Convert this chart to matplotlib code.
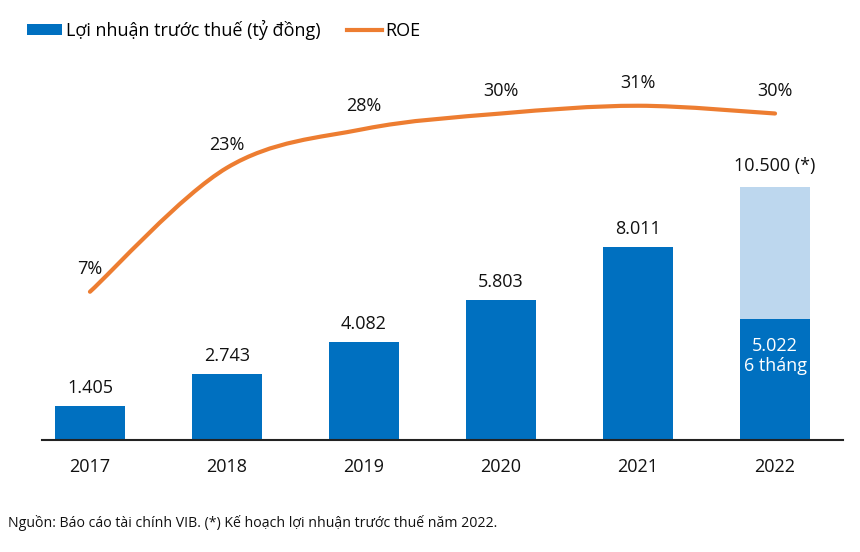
import matplotlib
matplotlib.use("Agg")
import matplotlib.pyplot as plt
from matplotlib.path import Path
from matplotlib.patches import PathPatch, Patch
from matplotlib.lines import Line2D
import numpy as np

years = ["2017", "2018", "2019", "2020", "2021", "2022"]
profit = [1405, 2743, 4082, 5803, 8011, 5022]
profit_labels = ["1.405", "2.743", "4.082", "5.803", "8.011", "5.022\n6 tháng"]
plan_2022 = 10500
plan_label = "10.500 (*)"
roe = [7, 23, 28, 30, 31, 30]
roe_labels = ["7%", "23%", "28%", "30%", "31%", "30%"]

BLUE = "#0070C0"
LIGHT = "#BDD7EE"
ORANGE = "#ED7D31"
FONT = "Open Sans"

plt.rcParams["font.family"] = [FONT, "DejaVu Sans"]

fig = plt.figure(figsize=(8.6, 5.52), dpi=100)
W, H = 860, 552
ax_left, ax_right, ax_bottom, ax_top = 42, 843, 440, 60
ax = fig.add_axes([ax_left / W, 1 - ax_bottom / H, (ax_right - ax_left) / W, (ax_bottom - ax_top) / H])

x = np.arange(len(years))
bw = 0.51

ax.bar(x[-1], plan_2022, width=bw, color=LIGHT, zorder=1)
ax.bar(x, profit, width=bw, color=BLUE, zorder=2)

ax.set_xlim(-0.35, 5.496)
ax.set_ylim(0, 380 / 0.02409)

for i, (v, lab) in enumerate(zip(profit, profit_labels)):
    if i == len(years) - 1:
        ax.text(x[i], v - 750, lab, ha="center", va="top", color="white",
                fontsize=13, linespacing=1.15, zorder=5)
    else:
        ax.annotate(lab, (x[i], v), xytext=(0, 6.5), textcoords="offset points",
                    ha="center", va="bottom", fontsize=13, color="#111111")
ax.annotate(plan_label, (x[-1], plan_2022), xytext=(0, 9), textcoords="offset points",
            ha="center", va="bottom", fontsize=13, color="#111111")

for s in ["top", "right", "left"]:
    ax.spines[s].set_visible(False)
ax.spines["bottom"].set_linewidth(1.5)
ax.spines["bottom"].set_color("#222222")
ax.set_yticks([])
ax.set_xticks(x)
ax.set_xticklabels(years, fontsize=13, color="#111111")
ax.tick_params(axis="x", length=0, pad=13)

ax2 = ax.twinx()
ax2.set_ylim(-94 / 7.75, 286 / 7.75)
ax2.set_xlim(ax.get_xlim())
ax2.axis("off")

# smooth line through the ROE points (Catmull-Rom as cubic Bezier)
px = list(x.astype(float))
py = list(roe)
verts = [(px[0], py[0])]
codes = [Path.MOVETO]
t = 1 / 6
for i in range(len(px) - 1):
    p0 = (px[max(i - 1, 0)], py[max(i - 1, 0)])
    p1 = (px[i], py[i])
    p2 = (px[i + 1], py[i + 1])
    p3 = (px[min(i + 2, len(px) - 1)], py[min(i + 2, len(px) - 1)])
    c1 = (p1[0] + (p2[0] - p0[0]) * t, p1[1] + (p2[1] - p0[1]) * t)
    c2 = (p2[0] - (p3[0] - p1[0]) * t, p2[1] - (p3[1] - p1[1]) * t)
    verts += [c1, c2, p2]
    codes += [Path.CURVE4] * 3
ax2.add_patch(PathPatch(Path(verts, codes), facecolor="none", edgecolor=ORANGE,
                        lw=3, capstyle="round", zorder=4))

for xi, r, lab in zip(x, roe, roe_labels):
    ax2.annotate(lab, (xi, r), xytext=(0, 16.5), textcoords="offset points",
                 ha="center", va="center", fontsize=13, color="#111111")

handles = [Patch(facecolor=BLUE, edgecolor="none"),
           Line2D([0], [0], color=ORANGE, lw=3)]
fig.legend(handles, ["Lợi nhuận trước thuế (tỷ đồng)", "ROE"],
           loc="center left", bbox_to_anchor=(11 / W, 1 - 30 / H), ncol=2,
           frameon=False, fontsize=13, handlelength=1.95, handleheight=0.5,
           handletextpad=0.2, columnspacing=1.45)

fig.text(8 / W, 1 - 523 / H,
         "Nguồn: Báo cáo tài chính VIB. (*) Kế hoạch lợi nhuận trước thuế năm 2022.",
         ha="left", va="center", fontsize=10.2, color="#111111")

fig.savefig("out.png", dpi=100)
